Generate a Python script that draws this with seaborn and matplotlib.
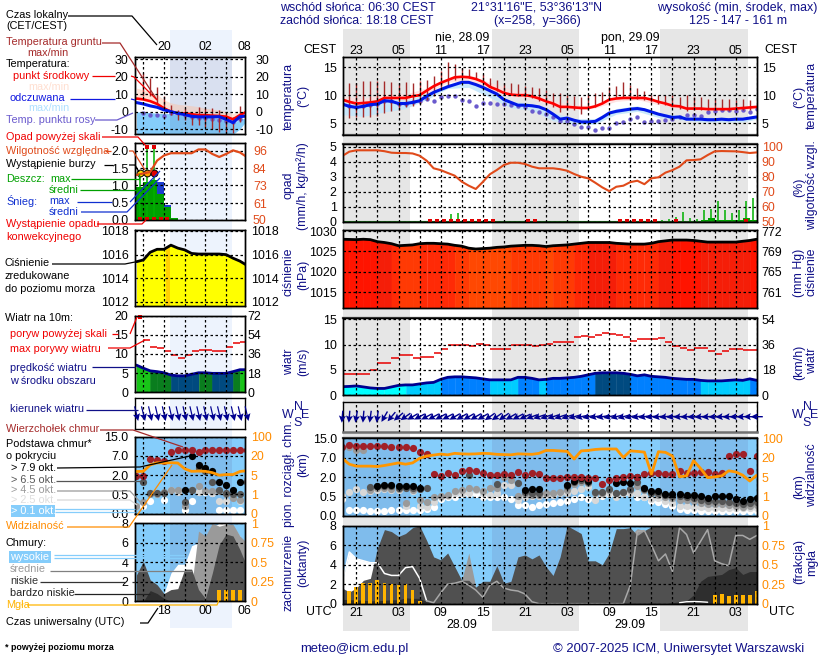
import numpy as np
import matplotlib
matplotlib.use("Agg")
import matplotlib.pyplot as plt
from matplotlib.patches import Rectangle
import seaborn as sns

n = np.nan

# --- main meteogram data, hourly from 27.09 19 UTC (hour 0 = 21 UTC) ---
hours = np.arange(-2, 58)
temp_mid = [9.2,8.8,8.5,8.6,8.7,8.9,9.5,9.5,9.5,9.5,
            9.8,10,10.8,11.6,12.2,12.7,13.2,13.3,13.2,12.9,
            12.4,11.5,11,10.4,10.1,10,10,9.8,9.4,8.9,
            8.5,7.9,7.9,7.8,7.7,7.7,8,8.5,9.2,9.4,
            9.5,9.5,9.5,9.5,9.2,8.8,8.5,8.1,8,7.6,
            7.6,7.6,7.5,7.5,7.5,7.5,7.6,7.7,7.8,7.9]
temp_feel = [8.4,8,7.8,8,8.3,8.4,9,8.9,8.5,8.5,
             8.7,9,9.8,10.5,11,11.5,11.9,12.3,12.3,11.9,
             11.4,10.8,10.2,9.2,8.7,8.2,8.2,8.1,7.9,7.4,
             6.6,5.7,5.9,5.5,5.2,5.2,5.3,6,6.8,7.1,
             7.3,7.5,7.6,7.4,7,6.6,6.3,6,6.1,5.7,
             5.7,5.7,5.6,5.6,5.7,5.6,5.7,5.7,5.9,6.1]
temp_dew = [8.4,8,7.8,8,8.3,8.4,9,8.9,8.5,8.5,
            8.7,9,9.3,8.9,9.6,9.9,9.8,9.2,8.9,8.1,
            8.6,8.6,8.4,8.4,8.2,8,7.8,7.1,7,6.6,
            6.1,5.4,5.3,4.9,4.3,4.3,3.8,4.1,4.2,5,
            5.2,5.7,6,5.2,5.4,5.4,5.5,5.7,6,6.4,
            6.4,6.3,6.9,7.2,7.3,7.3,7.2,7.3,7,7.6]
ground_max = [n,12.2,12.2,12.5,12.5,12.5,12.6,12.3,12.2,12.3,
              12.2,12.5,12.8,13.5,14.3,15.9,15.6,14.9,14.7,14.1,
              13.8,13,12.8,12.2,12.2,12,11.7,11.4,11.3,11,
              10.3,10.4,10,9.9,9.7,10.2,10.3,10.6,11.4,11.6,
              12.4,11.8,11.2,10.8,10.1,10,10,10,9.7,10,
              9.7,9.6,9.4,9.4,9.4,9.3,9.2,9.3,9.2,n]
ground_min = [n,5.9,6,6,6,6.2,6.8,7.1,7.4,7.8,
              8.1,8.4,9.2,9.9,11.3,11.7,12.8,13.2,13,12.9,
              12.3,11.4,10.8,10.2,10.1,9.8,9.6,9.5,8.9,8.4,
              7.9,7,7.3,7.3,6.6,7.3,7.8,8.8,9.2,9.5,
              9.5,9.5,9.4,9.1,8.8,8.5,8.2,7.9,7.6,7.2,
              7.3,7.3,7.3,7.3,7.3,7.2,7.3,7.3,7.4,n]
band_hours = [-2,1,4,7,10,13,16,19,22,25,28,31,34,37,40,43,46,49,52,55,57]
mid_max = [9.8,9.4,10.2,10.2,11.3,13.1,13.7,12.3,11,10.3,9,8.2,8.2,9.8,10,9.1,8.2,7.9,7.8,7.8,8.1]
mid_min = [8.6,8.3,9,9.2,10.3,12.3,12.7,10.9,9.7,9.4,7.9,7.4,7.7,8.9,9.2,8.3,7.6,7.3,7.3,7.3,7.6]
feel_max = [8.8,8.6,9.4,9.1,10.3,12,12.5,10.9,8.9,8.5,6.9,5.8,5.8,7.6,8.1,6.8,6.4,6,6,6,6.3]
feel_min = [6.5,6.2,7,7.6,9.2,11.2,11.4,9.6,7.7,7.3,5.4,4.8,4.8,6.6,7.1,6,5.6,5.2,5.2,5.2,5.7]

humidity = [93.8,96.7,97.6,97.6,97.6,97.6,97,96,95.8,95.8,
            95.5,94,90.7,85.6,84.4,82.5,80.7,76.7,74,71.8,
            76.5,81.6,84.5,87.8,89.3,89.3,88.5,86.7,85.6,85.6,
            85.6,85,84,81.8,80,78.9,76,72.9,70.4,73.3,
            74,76.4,77.3,75,78.9,79.6,82.7,84.4,86.7,90.9,
            91.1,91.6,94.4,96.9,97.1,97,96.9,96.4,95.8,96.2]
rain_hours = [11.5,12.5,13.5,14.5,15.5,43.5,44.5,45.5,46.5,47.5,48.5,49.5,50.5,51.5,52.5,53.5,54.5,55.5,56.5]
rain_max = [.05,.1,.5,.55,.05,.1,.2,.3,.62,.25,.2,.75,.85,1.4,.75,.6,.75,1.4,1.55]
mean_hours = [49,50,51,52,53,54,55,56]
rain_mean = [.1,.25,.1,.1,.1,.1,.25,.1]
conv_hours = [10.5,11.5,12.5,13.5,14.5,15.5,16.5,17.5,18.5,19.5,24.5,25.5,37.5,38.5,39.5,40.5,41.5,42.5,45.5,55.5]

pressure = [1028,1027.95,1027.9,1028,1027.9,1027.4,1027.2,1026.9,1026.4,1026.5,
            1026.6,1026.9,1027,1027,1026.9,1026.8,1026.5,1026.3,1025.8,1025.6,
            1025.7,1025.8,1026,1026.1,1026.3,1026.4,1026.5,1026.5,1026.4,1026.2,
            1026.4,1026.5,1026.6,1026.8,1027,1027.2,1027.2,1027.2,1027.2,1027,
            1026.9,1026.8,1026.8,1026.8,1027,1027.4,1027.6,1027.8,1027.8,1027.8,
            1027.7,1027.5,1027.3,1027.3,1027.3,1027.3,1027.3,1027.5,1027.7,1028]

wind = [1.65,1.7,1.8,1.6,1.4,1.3,1.3,1.6,1.9,2,
        2,2.2,2.4,2.5,3.1,3.5,3.6,3.6,3.5,3.4,
        3.2,3,3,3,3,3.5,3.5,3.3,3,3.1,
        3.3,3.3,3.4,3.5,3.7,4,4.3,4.4,4.4,4.4,
        4.3,4.1,3.8,4,3.7,3.6,3.5,3.3,3.2,3.1,
        3.1,2.9,2.8,2.8,2.8,2.9,3,2.9,3.2,2.9]
gust = [4.1,4.1,4.1,4.1,4.9,6.3,6.3,7.4,7.9,7.9,
        7.3,7.5,7.5,8.3,9.2,10,9.9,9.9,9.7,10.2,
        9.9,9.2,9.2,9.2,9.9,9.9,9.9,9.7,9.9,10.2,
        10.5,10.6,10.6,11.4,11.7,11.5,11.9,12.3,12.1,11.9,
        11.5,10.8,11.1,11.1,11.1,11.3,10.5,9.7,9.4,9,
        9.3,9.3,8.7,8.2,8.8,9.2,9.1,8.9,8.9]
wind_dir = [5,5,10,5,8,8,30,40,50,55,
            60,62,62,62,62,62,60,60,60,60,
            60,55,55,55,60,62,65,70,72,72,
            72,72,72,75,78,78,80,80,78,75,
            75,78,80,80,82,82,82,83,85,85,
            85,85,85,85,85,86,87,88,90,90]

cloud_top = [11.6,12.3,12,12,12,12,12,11.3,11.3,11.3,
             10.9,9.5,8.4,2.8,2.3,3.1,2.5,3.5,3.8,3.5,
             3.1,2.5,2.5,2.7,2.5,3.3,2.5,3.1,2.9,1.9,
             1.9,1.9,2.1,2.1,2.1,1.95,1.9,1.45,1.8,1.9,
             2.1,2.25,2.1,2.9,3.1,3.1,2.9,2.8,3.5,3.1,
             3.1,3.2,3.4,2.9,3.1,7.8,8.5,8.5,3.5,7.6]
base_79 = [n,n,n,n,n,1.35,1.38,1.38,1.28,1.28,
           1.28,1.18,n,n,n,n,n,n,n,n,
           n,n,n,n,n,n,1.03,1.05,1.05,n,
           n,n,1.38,1.7,1.9,1.7,n,n,n,1.55,
           1.6,1.58,2,1.18,.9,.9,.72,.67,.67,.66,
           .66,.52,.46,.55,.55,.52,.44,.39,.44,.46]
base_65 = [n,n,n,n,1.25,1.28,1.3,1.3,1.2,1.2,
           1.2,1.1,1.15,n,n,n,n,n,2.5,n,
           n,n,1.5,n,n,1.55,.88,.78,.78,n,
           n,n,1.28,1.6,1.8,1.6,.85,.88,1.05,.78,
           .88,1.05,1.6,1.05,.8,.75,.65,.58,.56,.5,
           .46,.42,.38,.38,.38,.36,.34,.32,.33,.35]
base_45 = [n,11.5,10,10,1,1.18,1.18,1.1,1.1,.33,
           1,.4,.35,.48,.55,.66,.92,1,1.2,1.1,
           .92,1.2,1.2,2.05,1.8,.55,.7,.66,.66,.8,
           .75,.88,1,1.5,1.6,1.55,.75,.8,1,.78,
           .88,1,1.28,1,.75,.62,.5,.47,.41,.41,
           .39,.33,.3,.3,.3,.29,.26,.24,.27,.29]
base_25 = [.55,.88,1.05,.88,.95,1,1.05,1,1,.25,
           .95,.26,.24,.37,.5,.58,.75,.75,.8,1,
           .75,.62,.75,1.38,1.38,.41,.5,.58,.58,.62,
           .62,.75,.8,.92,1.1,1.25,.41,.67,.75,.5,
           .75,.75,.75,.5,.44,.47,.39,.33,.27,.27,
           .24,.22,.2,.2,.2,.2,.2,.2,.2,.2]
base_01 = [.45,.155,.155,.155,.14,.13,.14,.15,.15,.15,
           .155,.16,.19,.24,.44,.49,.49,.7,.72,.7,
           .5,.49,.49,.49,.44,.29,.28,.24,.28,.32,
           .33,.37,.39,.44,.5,.44,.44,.58,.67,.7,
           .75,.75,.5,.5,.39,.35,.3,.27,.18,.155,
           .15,.14,.13,.13,.13,.13,.13,.13,.13,.13]
visibility = [19.5,15,13.5,13.5,13.5,13.2,14,15,16,15,
              16,19.5,27,31,35,32,38,36,35,36,
              38,37,34,33,32,36,35,34,38,50,
              50,48,46,19,48,50,54,56,56,56,
              21,48,46,43,7.3,45,42,27,5.3,6,
              17.7,11.7,4.9,5.2,6,9.9,9,6.5,4.2,6.5]

cover_high = [2.3,5.3,4.6,4.4,4.2,4.2,3.1,2.9,2.9,3.7,
              3.8,2.6,.3,.1,1.1,2,2.1,2.3,1.9,1.4,
              .65,1.9,2.3,1.6,1.4,1.3,1,.2,0,0,
              0,0,0,0,0,0,0,0,0,0,
              0,1.9,7.4,7.5,6,4.4,5.1,3.3,7.8,7.1,
              5.2,6.4,7.6,4.4,4.1,3.9,7,7,6.6,7]
cover_mid = [0,0,0,0,0,0,0,0,0,0,
             0,0,0,0,0,0,0,2.4,5.2,1.7,
             0,0,0,0,0,0,0,0,0,0,
             0,0,0,0,0,0,0,0,0,0,
             0,7,7.7,7.5,0,0,0,0,0,0,
             0,0,0,0,0,0,0,0,0,0]
cover_low = [1.6,1.2,1.6,2.4,2.6,5.7,7.6,7.4,6.9,7.2,
             7.8,8,6.5,4.8,4.5,5.2,3.8,2.4,2.4,1.7,
             2.3,2.3,3.9,2.1,2.3,4.8,5,4.6,5,3.8,
             2.9,4.8,8,7.6,7.2,4.4,4.4,4,5.2,7.7,
             7.7,7.8,7,7.5,7.9,8,8,8,8,8,
             8,8,8,8,8,8,8,8,8,8]
cover_vlow = [.45,.4,.4,.35,.3,.3,.35,.4,.4,.6,
              .55,.55,.2,0,0,0,0,0,0,0,
              0,0,0,0,0,0,0,0,0,0,
              0,0,0,0,0,0,0,0,0,0,
              0,0,0,0,0,0,0,.1,.2,.3,
              .9,2.3,2.8,2.9,3,3.5,3.7,3,3.3,3.3]
thin_hours = [46,47,48,49,50]
cover_thin = [.1,.2,.22,.2,.15]
fog = [.1,.16,.21,.26,.26,.3,.26,.25,.24,.25,
       .17,.03,0,0,0,0,0,0,0,0,
       0,0,0,0,0,0,0,0,0,0,
       0,0,0,0,0,0,0,0,0,0,
       0,0,0,0,0,0,0,0,0,0,
       0,0,0,.11,.125,.1,.11,.11,.11,.16]

# --- small legend meteogram, hourly, hour 0 = 18 UTC ---
leg_hours = np.arange(-4, 13)
leg_mid = [7.5,7,6,4.4,1.9,0,-1,-1,-1.5,-2,-2,-2.3,-2.5,-2.9,-4.4,-2,0]
leg_feel = [5.2,4.4,3.3,2.5,1,0,-1,-1.7,-2.7,-3,-3,-3,-2.9,-4.4,-6.3,-2.9,-2.5]
leg_dew = [n,-1,-2,-2,-2.3,-1,-1,-2,-3,-3.8,-3.8,-4.4,-4.8,-5.2,-5.8,-4.4,n]
leg_ground_max = [n,22,19.2,14,8.7,3.8,1,1.9,0,2.9,1.9,1.9,1,-1,-2.9,3.3,n]
leg_ground_min = [n,8.7,8.7,4.4,1.9,-1.9,-4.8,-4.8,-7.7,-7.7,-8.7,-10,-11.5,-12.6,-12.3,-5.8,n]
leg_mid_max = [13.5,12.5,11.5,10,6.7,5,4.2,3.8,3.4,2.8,1.9,1.5,1,0,-1,0,0]
leg_feel_max = [0,-.5,-.5,-1,-1,-1.2,-1.8,-2.2,-3,-3,-3,-3.5,-3.8,-4.5,-7,-4,-4]
leg_feel_min = [-13,-13,-13,-13,-13,-13,-13,-13,-13,-13,-13,-13,-13,-13,-13,-10,-5]
leg_humidity = [80,81,82,89.6,93,94.5,94.5,94.5,94.5,97,97,94,92,94,96.4,95,92]
leg_rain_hours = [-4,-3,-2,-1,0,1]
leg_rain = [.95,1.1,1.15,.75,.37,.07]
leg_snow = [0,0,0,.36,.06,0]
leg_rain_max_hours = [-3.5,-2.5,-1.5]
leg_rain_max = [1.35,2.05,2.05]
leg_pressure = [1015.4,1015.55,1016.2,1016.45,1016.45,1016.8,1016.55,1016.4,1016.1,1016.05,
                1016.05,1016.05,1016.05,1016,1015.7,1015.45,1015.1]
leg_wind = [7.1,6.3,5.6,5.4,5.1,4.5,4.3,4.3,4.7,5.1,5.1,4.95,4.95,4.95,5.4,5.9,5.9]
leg_gust = [20.5,13.6,11.9,11.6,10.7,9.7,9,9.7,10.7,11,11,10.7,10.7,11.7,12.8,13.1]
leg_dir = [346,346,347,347,347,347,347,347,347,347,347,347,347,347,347,347,347]
leg_top = [1.95,1.95,6.3,6,5.8,8.6,9.5,9.5,9.5,8.6,9.5,9.5,9.5,9.5,9.5,9.5,9.5]
leg_79 = [n,n,n,n,n,n,n,.86,6.9,4.7,3.8,3,1.5,1.2,.86,1.5,n]
leg_65 = [n,1.5,.6,.6,.6,n,n,.3,.86,3.9,3.1,1.5,.86,.6,.5,.5,1.45]
leg_45 = [.19,.31,.55,.55,.68,.86,.86,.21,.86,1.15,.8,.8,.8,.55,.42,.36,1.6]
leg_25 = [.19,n,n,n,n,.86,.68,n,n,.68,n,.65,.34,.34,n,.34,n]
leg_01 = [n,.19,.34,n,.36,n,n,.1,.34,.68,.68,.65,.1,.1,.1,.1,n]
leg_vis = [7.9,8,13,14.7,14.5,14.7,14.5,10,8,8.2,8,7,5,5.5,5.5,7.9,8.5]
leg_high = [.8,.3,0,0,.8,2.9,3.8,3.8,5.7,6,6,7.6,8,8,7.7,6.7,5.3]
leg_cmid = [0,0,0,0,0,0,0,0,1.5,7.2,6.7,8,7.7,7.9,7.9,6.7,6]
leg_low = [2.7,4.1,2.2,1.7,.8,1.2,1.3,3.3,3.3,1.2,.3,2.9,5.8,6.9,6.7,5.3,3.6]
leg_vlow = [0,0,1.1,.8,.3,0,0,0,0,0,0,0,0,0,0,0,0]
leg_fog_hours = [8,9,10,11]
leg_fog = [.15,.15,.15,.15]

base_levels = [0, .5, 2, 7, 15]
vis_levels = [0, 1, 5, 20, 100]
level_pos = [0, 1, 2, 3, 4]

local_labels = ["23", "05", "11", "17", "23", "05", "11", "17", "23", "05"]
utc_labels = ["21", "03", "09", "15", "21", "03", "09", "15", "21", "03"]
leg_local_labels = ["20", "02", "08"]
leg_utc_labels = ["18", "00", "06"]

# --- setup ---
sns.set_theme(style="white")
plt.rcParams["font.family"] = ["Liberation Sans", "DejaVu Sans"]
plt.rcParams["axes.edgecolor"] = "black"
plt.rcParams["axes.linewidth"] = 1.0
plt.rcParams["text.color"] = "black"

W, H = 820, 660
fig = plt.figure(figsize=(W / 100, H / 100), dpi=100, facecolor="white")

NAVY = "#101088"
ORANGE = "#ff8c00"
RH_COL = "#e04a1a"
SKY = "#85cdfb"
GRID = dict(color="black", linestyle=(0, (2, 2)), linewidth=0.9)
TICK = 8.9
TXT = 7.8


def overlay(z):
    a = fig.add_axes([0, 0, 1, 1], zorder=z)
    a.set_xlim(0, W)
    a.set_ylim(H, 0)
    a.axis("off")
    return a


bg = overlay(-1)
fg = overlay(20)

# night bands behind both meteograms
for x0, x1 in [(343, 410), (492, 579), (660, 748)]:
    bg.add_patch(Rectangle((x0, 29), x1 - x0, 602, color="#e6e6e6", lw=0))
bg.add_patch(Rectangle((170, 30), 62, 598, color="#edf3fd", lw=0))


def panel(box, xlim, grid_x, ylim, yticks, ylabels=None, big=True):
    x0, y0, x1, y1 = box
    ax = fig.add_axes([x0 / W, 1 - y1 / H, (x1 - x0) / W, (y1 - y0) / H])
    ax.patch.set_alpha(0)
    ax.set_xlim(*xlim)
    ax.set_ylim(*ylim)
    ax.set_xticks(grid_x)
    ax.set_xticklabels([])
    ax.set_yticks(yticks)
    ax.set_yticklabels(ylabels if ylabels is not None else [str(t) for t in yticks])
    ax.tick_params(axis="both", length=0, labelsize=TICK, colors="black")
    ax.tick_params(axis="y", pad=4.5 if big else 5.0)
    ax.grid(True, **GRID)
    ax.set_axisbelow(False)
    return ax


def twin_labels(ax, ticks, labels, color="black", pad=3.0):
    tw = ax.twinx()
    tw.patch.set_alpha(0)
    tw.set_ylim(ax.get_ylim())
    tw.set_yticks(ticks)
    tw.set_yticklabels(labels)
    tw.tick_params(axis="y", length=0, labelsize=TICK, labelcolor=color, pad=pad)
    tw.grid(False)
    return tw


def line(ax, x, y, color, lw=1.5, **kw):
    sns.lineplot(x=x, y=y, ax=ax, color=color, linewidth=lw, estimator=None, sort=False,
                 legend=False, **kw)
    ax.set(xlabel="", ylabel="")


def dots(ax, x, y, color, s=20):
    sns.scatterplot(x=x, y=y, ax=ax, color=color, s=s, linewidth=0, legend=False)
    ax.set(xlabel="", ylabel="")


def wind_colour(v):
    if v < 2:
        return "#00ffff"
    if v < 3.05:
        return "#00ccff"
    if v < 4.25:
        return "#0080ff"
    if v < 5:
        return "#004a80"
    if v < 5.8:
        return "#0a7d1e"
    return "#18c418"


def pressure_colour(p):
    # stepped like the colour classes of the original
    if p >= 1027.7:
        return "#ff1400"
    if p >= 1027.2:
        return "#f51e08"
    if p >= 1026.8:
        return "#ff2a06"
    if p >= 1026.3:
        return "#ff3a04"
    return "#ff4802"


def segment_fill(ax, x, y, base, colours):
    x = np.asarray(x, float)
    y = np.asarray(y, float)
    for i in range(len(x) - 1):
        ax.fill_between(x[i:i + 2], base, y[i:i + 2], color=colours[i], linewidth=0.4)


def fwd_base(v):
    return np.interp(v, base_levels, level_pos)


def inv_base(v):
    return np.interp(v, level_pos, base_levels)


def fwd_vis(v):
    return np.interp(v, vis_levels, level_pos)


def inv_vis(v):
    return np.interp(v, level_pos, vis_levels)


def arrows(ax, x, direction, length, head, width):
    rad = np.radians(direction)
    ax.quiver(x, np.zeros(len(x)), -np.sin(rad), -np.cos(rad), pivot="mid", color="#000090",
              angles="uv", scale_units="inches", scale=100 / length, units="inches",
              width=width, headwidth=head, headlength=head, headaxislength=head * .85,
              clip_on=False, zorder=5)


def cloud_dots(ax, x, series, s=27):
    for vals, col in zip(series, ["white", "#d8d8d8", "#9a9a9a", "#555555", "black", "#a02028"]):
        dots(ax, x, vals, col, s=s)


def cloud_base_axes(ax, pad):
    ax.set_yscale("function", functions=(fwd_base, inv_base))
    ax.set_yticks(base_levels, ["0.0", "0.5", "2.0", "7.0", "15.0"])
    ax.minorticks_off()
    ax.patch.set_alpha(1)
    ax.patch.set_facecolor(SKY)
    tw = ax.twinx()
    tw.patch.set_alpha(0)
    tw.set_yscale("function", functions=(fwd_vis, inv_vis))
    tw.set_ylim(0, 100)
    tw.set_yticks(vis_levels, [str(v) for v in vis_levels])
    tw.minorticks_off()
    tw.tick_params(axis="y", length=0, labelsize=TICK, labelcolor=ORANGE, pad=pad)
    tw.grid(False)
    return tw


xmain = (-1.9, 57.1)
gmain = list(range(0, 58, 3))
xleg = (-4.16, 11.78)
gleg = list(range(-3, 12, 3))
M = (343, 757.5)
L = (135.3, 245.3)
night_main = [(-1.9, 7.6), (19.3, 31.7), (43.2, 55.7)]

# ==== main panels ====
# temperature
ax = panel((M[0], 57, M[1], 135), xmain, gmain, (2.86, 16.84), [5, 10, 15])
twin_labels(ax, [5, 10, 15], ["5", "10", "15"])
ax.spines["bottom"].set_color("#505050")
ax.spines["bottom"].set_linewidth(1.6)
ax.fill_between(band_hours, mid_min, mid_max, color="#ffdcdc", linewidth=0, alpha=.8)
ax.fill_between(band_hours, feel_min, feel_max, color="#c4e6fb", linewidth=0, alpha=.9)
ax.vlines(hours, ground_min, ground_max, color="#a52a2a", linewidth=1)
dots(ax, hours, temp_dew, "#6a5acd", s=10)
line(ax, hours, temp_mid, "#ff0000", lw=1.9)
line(ax, hours, temp_feel, "#0018e8", lw=2.2)
ax.xaxis.tick_top()
ax.set_xticklabels([local_labels[i // 2] if i % 2 == 0 else "" for i in range(20)])
ax.tick_params(axis="x", pad=0)

# precipitation and humidity
ax = panel((M[0], 144, M[1], 221.7), xmain, gmain, (0, 5.18), [0, 1, 2, 3, 4, 5])
ax.spines["top"].set_color("#404040")
ax.spines["top"].set_linewidth(1.6)
tw = twin_labels(ax, [50, 60, 70, 80, 90, 100], ["50", "60", "70", "80", "90", "100"], color=RH_COL)
tw.set_ylim(50, 101.8)
ax.bar(mean_hours, rain_mean, width=1, align="edge", color="#00a000", linewidth=0)
ax.vlines(rain_hours, 0, rain_max, color="#00b000", linewidth=1.1)
ax.plot([xmain[0], xmain[1]], [0.02, 0.02], color="#207020", lw=0.8)
ax.scatter(conv_hours, np.zeros(len(conv_hours)) + .03, marker="s", s=7, color="#e00000", linewidth=0, zorder=5, clip_on=False)
line(tw, hours, humidity, RH_COL, lw=1.5)

# pressure
ax = panel((M[0], 230.3, M[1], 308.3), xmain, gmain, (1011, 1030.2), [1015, 1020, 1025, 1030])
twin_labels(ax, [1015, 1020, 1025, 1030], ["761", "765", "769", "772"])
segment_fill(ax, hours, pressure, 1011, [pressure_colour(p) for p in pressure])
line(ax, hours, pressure, "black", lw=2)

# wind
ax = panel((M[0], 318.3, M[1], 395), xmain, gmain, (0, 15.2), [0, 5, 10, 15])
ax.spines["top"].set_color("#404040")
ax.spines["top"].set_linewidth(1.6)
twin_labels(ax, [0, 5, 10, 15], ["0", "18", "36", "54"])
segment_fill(ax, hours, wind, 0, [wind_colour(v) for v in wind])
line(ax, hours, wind, "#000090", lw=2)
gust_hours = np.arange(-2, 57)
ax.hlines(gust, gust_hours, gust_hours + 1, color="#e80000", linewidth=1.1)

# wind direction
ax = panel((M[0], 401.7, M[1], 431.7), xmain, gmain, (-1, 1), [])
ax.spines["bottom"].set_color("#707070")
ax.spines["bottom"].set_linewidth(1.8)
arrows(ax, hours, wind_dir, 12, 5, .014)

# cloud base
ax = panel((M[0], 438.3, M[1], 516), xmain, gmain, (0, 15), base_levels)
ax.spines["top"].set_color("#404040")
ax.spines["top"].set_linewidth(1.6)
tw = cloud_base_axes(ax, 3)
for a, b in night_main:
    ax.axvspan(a, b, color="#7fbcec", linewidth=0, zorder=0.5)
cloud_dots(ax, hours, [base_01, base_25, base_45, base_65, base_79, cloud_top])
line(tw, hours, visibility, "#ff9600", lw=2)

# cloud cover
ax = panel((M[0], 525.7, M[1], 603.7), xmain, gmain, (0, 8), [0, 2, 4, 6, 8])
tw = twin_labels(ax, [0, .25, .5, .75, 1], ["0", "0.25", "0.5", "0.75", "1"], color=ORANGE)
tw.set_ylim(0, 1)
ax.patch.set_alpha(1)
ax.patch.set_facecolor(SKY)
for a, b in night_main:
    ax.axvspan(a, b, color="#7fbcec", linewidth=0, zorder=0.5)
ax.fill_between(hours, 0, cover_high, color="white", linewidth=0, zorder=1)
ax.fill_between(hours, 0, cover_mid, color="#9a9a9a", linewidth=0, zorder=1.1)
ax.fill_between(hours, 0, cover_low, color="#505050", linewidth=0, zorder=1.2)
line(ax, hours[:13], cover_high[:13], "white", lw=1.1, zorder=1.3)
line(ax, hours[12:], cover_high[12:], "#a8a8a8", lw=1.1, zorder=1.3)
ax.fill_between(hours, 0, cover_vlow, color="#2e2e2e", linewidth=0, zorder=1.4)
line(ax, thin_hours, cover_thin, "white", lw=1, zorder=1.45)
ax.bar(hours, np.array(fog) * 8, width=.55, color="#ffb400", linewidth=0, zorder=1.5)
ax.xaxis.tick_bottom()
ax.set_xticklabels([utc_labels[i // 2] if i % 2 == 0 else "" for i in range(20)])
ax.tick_params(axis="x", pad=2.5)

# ==== legend panels ====
# temperature
ax = panel((L[0], 57.3, L[1], 134.3), xleg, gleg, (-13, 31.15), [-10, 0, 10, 20, 30], big=False)
twin_labels(ax, [-10, 0, 10, 20, 30], ["-10", "0", "10", "20", "30"], pad=7)
ax.fill_between(leg_hours, leg_mid, leg_mid_max, color="#ffe3d6", linewidth=0)
ax.fill_between(leg_hours, leg_feel_min, leg_feel_max, color=SKY, linewidth=0, zorder=.9)
ax.axvspan(.9, 9.9, color="#304080", alpha=.1, linewidth=0, zorder=1)
ax.vlines(leg_hours, leg_ground_min, leg_ground_max, color="#a52a2a", linewidth=1)
dots(ax, leg_hours, leg_dew, "#6a5acd", s=10)
line(ax, leg_hours, leg_mid, "#ff0000", lw=1.9)
line(ax, leg_hours, leg_feel, "#0018e8", lw=2.2)

# precipitation
ax = panel((L[0], 143.3, L[1], 220), xleg, gleg, (0, 2.22), [0, .5, 1, 1.5, 2],
           ["0.0", "0.5", "1.0", "1.5", "2.0"], big=False)
tw = twin_labels(ax, [50, 61, 73, 84, 96], ["50", "61", "73", "84", "96"], color=RH_COL, pad=5.5)
tw.set_ylim(50, 101.1)
ax.bar(leg_rain_hours, leg_rain, width=1, align="edge", color="#00a000", linewidth=0)
ax.bar(leg_rain_hours, leg_snow, bottom=leg_rain, width=1, align="edge", color="#1f3fd0", linewidth=0)
ax.vlines(leg_rain_max_hours, 0, leg_rain_max, color="#00b000", linewidth=1.1)
ax.scatter([-2.5, -1.5], [2.12, 2.12], marker="s", s=12, color="#e00000", linewidth=0, zorder=6)
for hx, c in zip(leg_rain_max_hours, ["#ffe000", "#ffa000", "#e00000"]):
    ax.scatter([hx], [1.35], s=24, color=c, edgecolor="black", linewidth=.7, zorder=6)
ax.scatter([-3.5, -2.5, -1.5, -0.5, .5], [.02] * 5, marker="s", s=5, color="#e00000", linewidth=0, zorder=6)
line(tw, leg_hours, leg_humidity, RH_COL, lw=1.6)

# pressure
ax = panel((L[0], 230, L[1], 306), xleg, gleg, (1011.66, 1018.08), [1012, 1014, 1016, 1018], big=False)
twin_labels(ax, [1012, 1014, 1016, 1018], ["1012", "1014", "1016", "1018"], pad=4)
ax.fill_between(leg_hours, 1011, leg_pressure, color="#ffff00", linewidth=0)
ax.axvspan(.25, .9, color="#ffd000", linewidth=0, ymax=.77, zorder=1.1)
line(ax, leg_hours, leg_pressure, "black", lw=2)

# wind
ax = panel((L[0], 315.7, L[1], 392.3), xleg, gleg, (0, 20), [0, 5, 10, 15, 20], big=False)
twin_labels(ax, [0, 5, 10, 15, 20], ["0", "18", "36", "54", "72"], pad=1.5)
segment_fill(ax, leg_hours, leg_wind, 0, [wind_colour(v) for v in leg_wind])
line(ax, leg_hours, leg_wind, "#000090", lw=2)
gust_edges = np.arange(-4, 12)
ax.hlines(leg_gust, gust_edges, gust_edges + 1, color="#e80000", linewidth=1.1)
ax.scatter([-3.5], [19.6], marker="s", s=10, color="#e80000", linewidth=0, clip_on=False, zorder=6)

# wind direction
ax = panel((L[0], 398.3, L[1], 429), xleg, gleg, (-1, 1), [], big=False)
arrows(ax, leg_hours, leg_dir, 15, 6, .012)

# cloud base
ax = panel((L[0], 436.7, L[1], 513.7), xleg, gleg, (0, 15), base_levels, big=False)
tw = cloud_base_axes(ax, 4)
ax.axvspan(.9, 9.9, color="#7fbcec", linewidth=0, zorder=.5)
cloud_dots(ax, leg_hours, [leg_01, leg_25, leg_45, leg_65, leg_79, leg_top])
line(tw, leg_hours, leg_vis, "#ff9600", lw=2)

# cloud cover
ax = panel((L[0], 523.3, L[1], 601.3), xleg, gleg, (0, 8), [0, 2, 4, 6, 8], big=False)
tw = twin_labels(ax, [0, .25, .5, .75, 1], ["0", "0.25", "0.5", "0.75", "1"], color=ORANGE, pad=4)
tw.set_ylim(0, 1)
ax.patch.set_alpha(1)
ax.patch.set_facecolor(SKY)
ax.axvspan(.9, 9.9, color="#7fbcec", linewidth=0, zorder=.5)
ax.fill_between(leg_hours, 0, leg_high, color="white", linewidth=0, zorder=1)
ax.fill_between(leg_hours, 0, leg_cmid, color="#9a9a9a", linewidth=0, zorder=1.1)
ax.fill_between(leg_hours, 0, leg_low, color="#505050", linewidth=0, zorder=1.2)
ax.fill_between(leg_hours, 0, leg_vlow, color="#2e2e2e", linewidth=0, zorder=1.3)
ax.bar(leg_fog_hours, np.array(leg_fog) * 8, width=.55, color="#ffb400", linewidth=0, zorder=1.5)

# ==== text and leader lines ====


def lab(x, y, s, color="black", size=TXT, **kw):
    fg.text(x, y, s, color=color, fontsize=size, va="center", ha=kw.pop("ha", "left"), **kw)


def lead(points, color="black", lw=.9):
    xs, ys = zip(*points)
    fg.plot(xs, ys, color=color, linewidth=lw, solid_capstyle="butt")


def vlab(x, y, s, color=NAVY, size=TICK):
    fg.text(x, y, s, color=color, fontsize=size, rotation=90, va="center", ha="center")


DKRED = "#a52a2a"
RED = "#f00000"
GREEN = "#00a000"
BLUE = "#1030d0"

# header
lab(280, 8, "wschód słońca: 06:30 CEST", NAVY, TICK)
lab(280, 21, "zachód słońca: 18:18 CEST", NAVY, TICK)
lab(537, 8, "21°31'16\"E, 53°36'13\"N", NAVY, TICK, ha="center")
lab(537, 21, "(x=258,  y=366)", NAVY, TICK, ha="center")
lab(817, 8, "wysokość (min, środek, max)", NAVY, TICK, ha="right")
lab(738, 21, "125 - 147 - 161 m", NAVY, TICK, ha="center")
lab(462, 38, "nie, 28.09", "black", TICK, ha="center")
lab(630, 38, "pon, 29.09", "black", TICK, ha="center")
lab(303, 50, "CEST", "black", TICK)
lab(764, 50, "CEST", "black", TICK)
lab(306, 612, "UTC", "black", TICK)
lab(769, 612, "UTC", "black", TICK)
lab(462, 625, "28.09", "black", TICK, ha="center")
lab(630, 625, "29.09", "black", TICK, ha="center")
lab(300, 649, "meteo@icm.edu.pl", NAVY, 9.4)
lab(553, 649, "© 2007-2025 ICM, Uniwersytet Warszawski", NAVY, 9.4)
lab(5, 648, "* powyżej poziomu morza", "black", 6.4, fontweight="bold")

# time labels of the legend meteogram
for x, s in zip([164, 205, 244], leg_local_labels):
    lab(x, 47.5, s, "black", TICK, ha="center")
for x, s in zip([164, 205, 244], leg_utc_labels):
    lab(x, 611, s, "black", TICK, ha="center")

# axis names, left side
for x, y, s in [(289, 96, "temperatura"), (303, 96, "(°C)"), (289, 185, "opad"), (303, 186, "(mm/h, kg/m²/h)"),
                (289, 272, "ciśnienie"), (303, 275, "(hPa)"), (289, 362, "wiatr"), (303, 362, "(m/s)"),
                (289, 474, "pion. rozciągł. chm."), (303, 465, "(km)"), (289, 572, "zachmurzenie"), (303, 563, "(oktanty)")]:
    vlab(x, y, s)
# axis names, right side
for x, y, s in [(812, 95, "temperatura"), (799, 97, "(°C)"), (812, 185, "wilgotność wzgl."), (799, 187, "(%)"),
                (812, 272, "ciśnienie"), (799, 273, "(mm Hg)"), (812, 361, "wiatr"), (799, 362, "(km/h)"),
                (812, 475, "widzialność"), (799, 487, "(km)"), (812, 563, "mgła"), (799, 562, "(frakcja)")]:
    vlab(x, y, s)
# wind roses
for cx, dn, de in [(288, 10, 17), (798, 9, 16)]:
    lab(cx, 415, "W", NAVY, TICK, ha="center")
    lab(cx + dn, 407, "N", NAVY, TICK, ha="center")
    lab(cx + de, 415, "E", NAVY, TICK, ha="center")
    lab(cx + dn, 423, "S", NAVY, TICK, ha="center")

# legend column
lab(6, 15, "Czas lokalny")
lab(6, 26, "(CET/CEST)")
lead([(68, 16), (132, 16), (157, 45)])
lab(6, 42, "Temperatura gruntu", DKRED)
lab(27, 53, "max/min", DKRED)
lead([(102, 43), (120, 43), (157, 100)], DKRED)
lab(6, 64, "Temperatura:")
lab(13, 76, "punkt środkowy", RED)
lead([(92, 76), (115, 76)], RED)
lead([(131, 76), (134, 77), (157, 100)], RED)
lab(28, 87, "max/min", "#ffdfd0")
lab(10, 98, "odczuwana", "#1018e0")
lead([(70, 99), (115, 99)], "#1018e0")
lead([(131, 99), (135, 100)], "#1018e0")
lab(28, 108, "max/min", "#aee0ff")
lab(6, 120, "Temp. punktu rosy", "#6a5acd")
lead([(95, 120), (117, 120), (133, 113)], "#6a5acd")
lab(6, 137, "Opad powyżej skali", RED)
lead([(102, 137), (138, 137), (146, 146)], RED)
lab(6, 151, "Wilgotność względna", RH_COL)
lead([(105, 151), (111, 151)], RH_COL)
lead([(129, 151), (133, 151), (145, 170)], RH_COL)
lab(6, 164, "Wystąpienie burzy")
lead([(104, 165), (113, 165)])
lead([(129, 165), (135, 165), (139, 172)])
lab(6, 179, "Deszcz:", GREEN)
lab(50, 179, "max", GREEN)
lead([(71, 179), (139, 179), (139, 174)], GREEN)
lab(49, 190, "średni", GREEN)
lead([(80, 190), (145, 190)], GREEN)
lab(6, 201, "Śnieg:", BLUE)
lab(49, 201, "max", BLUE)
lead([(77, 202), (112, 202)], BLUE)
lead([(130, 202), (160, 171)], BLUE)
lab(49, 212, "średni", BLUE)
lead([(81, 212), (127, 212), (160, 178)], BLUE)
lab(6, 224, "Wystąpienie opadu", RED)
lead([(97, 224), (142, 224), (146, 220)], RED)
lab(6, 237, "konwekcyjnego", RED)
lab(5, 263, "Ciśnienie")
lead([(52, 264), (125, 264), (135, 262)])
lab(5, 276, "zredukowane")
lab(5, 289, "do poziomu morza")
lab(5, 318, "Wiatr na 10m:")
lab(10, 334, "poryw powyżej skali", RED)
lead([(112, 334), (118, 334)], RED)
lead([(130, 334), (137, 317)], RED)
lab(10, 349, "max porywy wiatru", RED)
lead([(108, 348), (130, 348), (145, 340)], RED)
lab(10, 368, "prędkość wiatru", NAVY)
lead([(92, 367), (135, 367)], NAVY)
lab(10, 381, "w środku obszaru", NAVY)
lab(10, 409, "kierunek wiatru", NAVY)
lead([(86, 410), (138, 410)], NAVY)
lab(6, 429, "Wierzchołek chmur", DKRED)
lead([(100, 430), (133, 430), (183, 447)], DKRED)
lab(6, 444, "Podstawa chmur*")
lab(6, 456, "o pokryciu")
lab(11, 468, "> 7.9 okt.")
lead([(57, 468), (140, 467), (190, 456)])
lab(11, 480, "> 6.5 okt.", "#555555")
lead([(56, 481), (143, 481)], "#555555")
lab(11, 490, "> 4.5 okt.", "#9a9a9a")
lead([(57, 491), (130, 491), (143, 505)], "#9a9a9a")
lab(11, 500, "> 2.5 okt.", "#dddddd")
lead([(57, 500), (130, 500), (137, 505)], "#d8d8d8")
fg.add_patch(Rectangle((11, 505), 44, 12, color=SKY, lw=0))
lab(11, 511, "> 0.1 okt.", "white")
lead([(55, 509), (135, 509)], SKY)
lead([(55, 512), (135, 512)], SKY)
lab(6, 526, "Widzialność", ORANGE)
lead([(67, 527), (129, 527), (172, 465)], ORANGE)
lab(6, 543, "Chmury:")
fg.add_patch(Rectangle((9, 551), 42, 12, color=SKY, lw=0))
lab(10, 557, "wysokie", "white")
lead([(54, 555), (185, 555)], SKY)
lead([(54, 558), (185, 558)], SKY)
lab(10, 569, "średnie", "#9a9a9a")
lead([(50, 571), (192, 571)], "#808080")
lab(10, 581, "niskie", "#333333")
lead([(40, 582), (125, 582)], "#333333")
lead([(132, 582), (135, 582)], "#333333")
lab(10, 593, "bardzo niskie", "#222222")
lead([(74, 594), (150, 594)], "#222222")
lab(6, 605, "Mgła", "#ffb400")
lead([(27, 605), (217, 605), (219, 600)], "#ffb400")
lab(6, 622, "Czas uniwersalny (UTC)")
lead([(140, 623), (148, 623), (158, 608)])

fig.savefig("out.png", dpi=100, facecolor="white")
